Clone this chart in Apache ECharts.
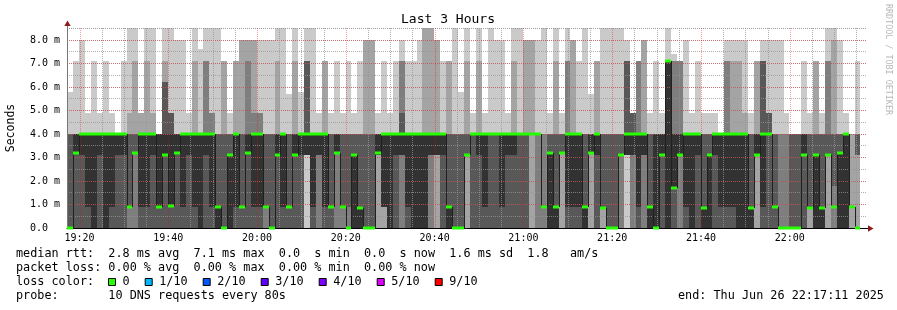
<!DOCTYPE html>
<html>
<head>
<meta charset="utf-8">
<title>Last 3 Hours</title>
<script src="https://cdn.jsdelivr.net/npm/echarts@6/dist/echarts.min.js"></script>
<style>
  html, body { margin: 0; padding: 0; background: #fff; }
  #chart { width: 897px; height: 310px; }
</style>
</head>
<body>
<div id="chart"></div>
<script>
// smokeping style graph, DNS probe, 10 requests every 80s
const windowStart = new Date(2025, 5, 26, 19, 17, 11).getTime()
const windowEnd = new Date(2025, 5, 26, 22, 17, 11).getTime()
const firstStep = new Date(2025, 5, 26, 19, 17, 16).getTime()
const stepMs = 80 * 1000

const timeLabels = ['19:20', '19:40', '20:00', '20:20', '20:40', '21:00', '21:20', '21:40', '22:00']

// median rtt for each step (ms)
const median = [
  0, 3.2, 4, 4, 4, 4, 4, 4, 4, 4,
  0.9, 3.2, 4, 4, 4, 0.9, 3.1, 0.95, 3.2, 4,
  4, 4, 4, 4, 4, 0.9, 0, 3.1, 4, 0.9,
  3.2, 4, 4, 0.9, 0, 3.1, 4, 0.9, 3.1, 4,
  4, 4, 4, 4, 0.9, 3.2, 0.9, 0, 3.1, 0.85,
  0, 0, 3.2, 4, 4, 4, 4, 4, 4, 4,
  4, 4, 4, 4, 0.9, 0, 0, 3.1, 4, 4,
  4, 4, 4, 4, 4, 4, 4, 4, 4, 4,
  0.9, 3.2, 0.9, 3.2, 4, 4, 4, 0.9, 3.2, 4,
  0.85, 0, 0, 3.1, 4, 4, 4, 4, 0.9, 0,
  3.1, 7.1, 1.7, 3.1, 4, 4, 4, 0.85, 3.1, 4,
  4, 4, 4, 4, 4, 0.85, 3.1, 4, 4, 0.9,
  0, 0, 0, 0, 3.1, 0.85, 3.1, 0.85, 3.1, 0.9,
  3.2, 4, 0.9, 0
]

// the 10 sorted response times of each step (ms)
const pings = [
  [0, 0, 0, 0, 4, 4, 4, 4, 4, 5.8],
  [0, 0, 0, 0, 3.2, 4, 4, 4, 4, 7.1],
  [0, 0, 0, 0, 3.1, 4, 4, 4, 4, 8],
  [0, 0, 0, 0, 0.9, 4, 4, 4, 4, 4.9],
  [0, 0, 0, 0, 0, 4, 4, 4, 4, 7.1],
  [0, 0, 0, 0, 3.1, 4, 4, 4, 4, 4.9],
  [0, 0, 0, 0, 0, 4, 4, 4, 4, 7.1],
  [0, 0, 0, 0, 0.9, 4, 4, 4, 4, 4.9],
  [0, 0, 0, 0, 3.1, 4, 4, 4, 4, 4],
  [0, 0, 0, 0, 3.1, 4, 4, 4, 4, 7.1],
  [0, 0, 0, 0.9, 4, 4, 4, 4, 4.9, 8.5],
  [0, 0, 0, 3.2, 4, 4, 4, 4, 7.1, 8.5],
  [0, 0, 0, 0, 0.9, 4, 4, 4, 4.9, 4.9],
  [0, 0, 0, 0, 0.9, 4, 4, 4, 7.1, 8.5],
  [0, 0, 0, 0, 3.1, 4, 4, 4, 4.9, 8.5],
  [0, 0, 0, 0, 0.9, 4, 4, 4, 4, 4],
  [0, 0, 0, 0, 3.1, 4, 6.2, 6.2, 7.1, 8.5],
  [0, 0, 0, 0, 0.9, 4, 4.9, 4.9, 4.9, 8.5],
  [0, 0, 0, 0, 3.2, 4, 4, 4, 4, 8],
  [0, 0, 0, 0, 0.9, 4, 4, 4, 4, 8],
  [0, 0, 0, 0, 3.1, 4, 4, 4, 4, 4.9],
  [0, 0, 0, 0, 0.9, 4, 4, 4, 7.1, 8.5],
  [0, 0, 0, 0, 0, 4, 4, 4, 4, 7.6],
  [0, 0, 0, 0, 3.1, 4, 4, 7.1, 7.1, 8.5],
  [0, 0, 0, 0, 0.9, 4, 4, 4.9, 4.9, 8.5],
  [0, 0, 0, 0, 0, 0.9, 4, 4, 4, 8.5],
  [0, 0, 0, 0, 4, 4, 4, 4, 7.1, 7.1],
  [0, 0, 0, 0, 0, 3.1, 4, 4, 4, 4.9],
  [0, 0, 0, 0, 0.9, 4, 4, 4, 7.1, 7.1],
  [0, 0, 0, 0, 4, 4, 4, 4, 8, 8],
  [0, 0, 0, 0, 3.2, 4, 4, 7.1, 8, 8],
  [0, 0, 0, 0, 0.9, 4, 4, 4.9, 8, 8],
  [0, 0, 0, 0, 0.9, 4, 4, 4.9, 4.9, 8],
  [0, 0, 0, 0.9, 4, 4, 4, 4, 4, 8],
  [0, 0, 0, 0, 4, 4, 4, 4, 4, 8],
  [0, 0, 0, 0, 3.1, 4, 4, 4, 7.1, 8.5],
  [0, 0, 0, 0, 0.9, 4, 4, 4, 4, 8.5],
  [0, 0, 0, 0, 4, 4, 4, 4, 4, 5.7],
  [0, 0, 0, 0, 3.1, 4, 4, 4, 7.1, 8.5],
  [0, 0, 0, 0, 3.1, 4, 4, 4, 4, 5.8],
  [0, 3.1, 3.1, 3.1, 3.1, 4, 7.1, 7.1, 7.1, 8.5],
  [0, 0, 0, 0, 0.9, 4, 4, 4, 4, 8.5],
  [0, 0, 0, 3.1, 3.1, 4, 4, 4, 4, 4.9],
  [0, 0, 0, 0, 0.9, 4, 4, 4, 7.1, 7.1],
  [0, 0, 0, 0, 4, 4, 4, 4, 4, 4.9],
  [0, 0, 0, 3.2, 3.2, 4, 4, 4, 4, 7.1],
  [0, 0, 0, 0.9, 4, 4, 4, 4, 4, 4.9],
  [0, 0, 0, 0.9, 4, 4, 4, 4, 4, 7.1],
  [0, 0, 0, 0, 0, 3.1, 4, 4, 4, 4.9],
  [0, 0, 0, 0, 0, 0.9, 4, 4, 4, 7.1],
  [0, 0, 0, 0, 4, 4, 4, 4, 8, 8],
  [0, 0, 0, 0, 4, 4, 4, 4, 8, 8],
  [0, 0, 3.1, 3.1, 3.1, 4, 4, 4, 4, 4.9],
  [0, 0, 0.9, 0.9, 0.9, 4, 4, 4, 4, 7.1],
  [0, 0, 0, 0, 0, 4, 4, 4, 4, 4.9],
  [0, 0, 0, 0, 3.1, 4, 4, 4, 4, 7.1],
  [0, 0, 0, 3.1, 3.1, 4, 4.9, 7.1, 7.1, 8],
  [0, 0, 0, 0, 0.9, 4, 4, 4, 4, 7.1],
  [0, 0, 0, 0, 0, 4, 4, 4, 4, 7.1],
  [0, 0, 0, 0, 0, 4, 4, 4, 4, 8],
  [0, 0, 0, 0, 0, 4, 4, 4, 8.5, 8.5],
  [0, 0, 0, 3.1, 3.1, 4, 4, 4, 8.5, 8.5],
  [0, 0, 3.1, 3.1, 3.1, 4, 4, 4, 8, 8],
  [0, 0, 0, 0, 3.1, 4, 4, 4, 4, 7.1],
  [0, 0, 0, 0, 0, 0.9, 4, 4, 7.1, 7.1],
  [0, 0, 0, 0, 4, 4, 4, 4, 4, 8.5],
  [0, 0, 0, 0, 4, 4, 4, 4, 4, 5.8],
  [0, 0, 3.1, 3.1, 4, 4, 4, 4, 7.1, 8.5],
  [0, 0, 0, 0, 4, 4, 4, 4, 4, 4.9],
  [0, 0, 0, 0, 3.1, 4, 4, 4, 7.1, 8.5],
  [0, 0, 0, 0, 0.9, 4, 4, 4, 4, 4.9],
  [0, 0, 0, 0, 4, 4, 4, 4, 4, 8.5],
  [0, 0, 0, 0, 4, 4, 4, 4, 4, 8],
  [0, 0, 0, 0, 0.9, 4, 4, 4, 4, 8],
  [0, 0, 0, 0, 3.1, 4, 4, 4, 4, 4.9],
  [0, 0, 0, 0, 3.1, 4, 4, 4, 7.1, 8.5],
  [0, 0, 0, 0, 4, 4, 4, 4, 4, 8.5],
  [0, 0, 0, 0, 4, 4, 4, 4, 8, 8],
  [0, 0, 4, 4, 4, 4, 4, 4, 8, 8],
  [0, 0, 0, 4, 4, 4, 4, 4, 4, 8],
  [0, 0, 0, 4, 4, 4, 4, 4, 4, 8.5],
  [0, 0, 0, 0, 0, 3.2, 4, 4, 4, 4.9],
  [0, 0, 0, 0, 0, 0.9, 4, 4, 7.1, 8.5],
  [0, 0, 3.2, 3.2, 4, 4, 4, 4, 4, 4.9],
  [0, 0, 0, 0, 0.9, 4, 4, 7.1, 7.1, 8.5],
  [0, 0, 0, 0, 0.9, 4, 4, 4, 8, 8],
  [0, 0, 0, 0, 0.9, 4, 4, 4, 4, 7.1],
  [0, 0, 0, 0, 0, 0.9, 4, 4, 4, 8.5],
  [0, 0, 3.2, 3.2, 3.2, 4, 4, 4, 4, 5.7],
  [0, 0, 0, 0, 3.1, 4, 4, 4, 7.1, 7.1],
  [0, 0, 0.9, 0.9, 4, 4, 4, 4, 4, 8.5],
  [0, 0, 0, 0, 4, 4, 4, 4, 4, 8.5],
  [0, 0, 0, 0, 4, 4, 4, 4, 4, 8.5],
  [0, 0, 0, 3.1, 4, 4, 4, 4, 4, 8.5],
  [0, 3.1, 3.1, 3.1, 3.1, 4, 7.1, 7.1, 7.1, 8],
  [0, 0, 0, 3.1, 3.1, 4, 4.9, 4.9, 4.9, 4.9],
  [0, 0, 0, 0, 0.9, 4, 4, 7.1, 7.1, 7.1],
  [0, 0, 0, 3.1, 3.1, 4, 4, 4, 8, 8],
  [0, 0, 0, 0, 0, 0.9, 4, 4, 4, 4.9],
  [0, 0, 0, 0, 0, 4, 4, 4, 4, 7.1],
  [0, 0, 0, 0, 3.1, 4, 4, 4, 4, 4.9],
  [0, 0, 0, 0, 0, 7.1, 7.1, 7.1, 7.1, 8.5],
  [0, 0, 0, 0, 1.7, 4, 4, 7.1, 7.1, 7.4],
  [0, 0, 0, 3.1, 3.1, 4, 4, 7.1, 7.1, 7.1],
  [0, 0, 0, 0, 0.9, 4, 4, 4, 4, 8],
  [0, 0, 0, 0, 0, 4, 4, 4, 4, 4.9],
  [0, 0, 0, 0, 3.1, 4, 4, 4, 4, 7.1],
  [0, 0, 0, 0, 0, 0.9, 4, 4, 4, 4.9],
  [0, 0, 0, 0, 0, 3.1, 4, 4, 4, 4.9],
  [0, 0, 0, 0, 3.1, 4, 4, 4, 4, 4.9],
  [0, 0, 0, 0, 0.9, 4, 4, 4, 4, 4],
  [0, 0, 0, 0, 0.9, 4, 4, 7.1, 7.1, 8],
  [0, 0, 0, 0, 0.9, 4, 4, 4, 7.1, 8],
  [0, 0, 0, 0, 0, 4, 4, 4, 7.1, 8],
  [0, 0, 0, 0, 0, 4, 4, 4, 4.9, 8],
  [0, 0, 0, 0, 0, 0.9, 4, 4, 4, 4.9],
  [0, 0, 3.1, 3.1, 3.1, 4, 4, 4, 7.1, 7.1],
  [0, 0, 0, 0, 0.9, 4, 7.1, 7.1, 7.1, 8],
  [0, 0, 0, 0, 4, 4, 4.9, 4.9, 4.9, 8],
  [0, 0, 0, 0, 4, 4, 4, 4, 4, 8],
  [0, 0, 0, 4, 4, 4, 4, 4, 4, 8],
  [0, 0, 0, 4, 4, 4, 4, 4, 4, 4.9],
  [0, 0, 0, 0, 4, 4, 4, 4, 4, 4],
  [0, 0, 0, 0, 4, 4, 4, 4, 4, 4],
  [0, 0, 0, 0, 3.1, 4, 4, 4, 4, 7.1],
  [0, 0, 0.9, 0.9, 4, 4, 4, 4, 4, 4.9],
  [0, 0, 0, 0, 0, 3.1, 4, 4, 7.1, 7.1],
  [0, 0, 0, 0, 0, 0.9, 4, 4, 4, 4.9],
  [0, 0, 3.1, 3.1, 4, 4, 4, 7.1, 7.1, 8.5],
  [0, 0, 0, 1.8, 4, 4, 4, 4, 8, 8.5],
  [0, 0, 0, 0, 0, 3.2, 4, 4, 4, 8],
  [0, 0, 0, 0, 0, 4, 4, 4, 4, 4.9],
  [0, 0, 4, 4, 4, 4, 4, 4, 4, 4],
  [0, 0, 3.1, 3.1, 4, 4, 4, 4, 4, 7.1]
]

const rttLine = 'median rtt:  2.8 ms avg  7.1 ms max  0.0  s min  0.0  s now  1.6 ms sd  1.8   am/s'
const lossLine = 'packet loss: 0.00 % avg  0.00 % max  0.00 % min  0.00 % now'
const lossLabels = ['0', '1/10', '2/10', '3/10', '4/10', '5/10', '9/10']
const lossColors = ['#26ff00', '#00b8ff', '#0059ff', '#5e00ff', '#7e00ff', '#dd00ff', '#ff0000']

const mono = 'DejaVu Sans Mono'
const yMax = 8.51
const majorGrid = 'rgba(255,0,0,0.38)'
const minorGrid = 'rgba(150,150,150,0.75)'
// gray shades, outer pair of pings lightest, middle pair darkest
const smokeColors = ['#cacaca', '#a4a4a4', '#7e7e7e', '#585858', '#323232']

function atTime (hhmm) {
  const [h, m] = hhmm.split(':').map(Number)
  return new Date(2025, 5, 26, h, m, 0).getTime()
}
function pad (n) { return (n < 10 ? '0' : '') + n }

const labelTimes = timeLabels.map(atTime)
// vertical grid every 5 minutes, red every 20
const gridLines = []
for (let t = atTime('19:20'); t < windowEnd; t += 5 * 60000) {
  gridLines.push([t, labelTimes.indexOf(t) >= 0 ? 1 : 0])
}

const smokeData = []
for (let layer = 0; layer < 5; layer++) {
  pings.forEach((p, k) => {
    const t0 = firstStep + k * stepMs
    smokeData.push([t0, t0 + stepMs, p[layer], p[9 - layer], layer])
  })
}
const medianData = median.map((m, k) => {
  const t0 = firstStep + k * stepMs
  return [t0, t0 + stepMs, m, k > 0 ? median[k - 1] : m]
})

const graphics = [
  { type: 'text', x: 448, y: 20, style: { text: 'Last 3 Hours', font: '13px ' + mono, fill: '#000', align: 'center', verticalAlign: 'middle' } },
  { type: 'text', x: 11, y: 128, rotation: Math.PI / 2, style: { text: 'Seconds', font: '11.5px ' + mono, fill: '#000', align: 'center', verticalAlign: 'middle' } },
  { type: 'text', x: 888.5, y: 59.5, rotation: -Math.PI / 2, style: { text: 'RRDTOOL / TOBI OETIKER', font: '8.4px ' + mono, fill: '#b8b8b8', align: 'center', verticalAlign: 'middle' } },
  { type: 'line', z: 30, shape: { x1: 67.5, y1: 28, x2: 67.5, y2: 24 }, style: { stroke: '#777', lineWidth: 1 } },
  { type: 'polygon', z: 30, shape: { points: [[64.3, 26], [70.7, 26], [67.5, 20.5]] }, style: { fill: '#8a1c1c' } },
  { type: 'line', z: 30, shape: { x1: 866, y1: 228.5, x2: 869, y2: 228.5 }, style: { stroke: '#000', lineWidth: 1 } },
  { type: 'polygon', z: 30, shape: { points: [[868, 225.3], [868, 231.7], [873.5, 228.5]] }, style: { fill: '#8a1c1c' } },
  { type: 'text', x: 16, y: 254, style: { text: rttLine, font: '11.8px ' + mono, fill: '#000', verticalAlign: 'middle' } },
  { type: 'text', x: 16, y: 268, style: { text: lossLine, font: '11.8px ' + mono, fill: '#000', verticalAlign: 'middle' } },
  { type: 'text', x: 16, y: 282, style: { text: 'loss color:', font: '11.8px ' + mono, fill: '#000', verticalAlign: 'middle' } },
  { type: 'text', x: 16, y: 296, style: { text: 'probe:       10 DNS requests every 80s', font: '11.8px ' + mono, fill: '#000', verticalAlign: 'middle' } },
  { type: 'text', x: 678, y: 296, style: { text: 'end: Thu Jun 26 22:17:11 2025', font: '11.8px ' + mono, fill: '#000', verticalAlign: 'middle' } }
]
let boxX = 108.5
lossLabels.forEach((label, i) => {
  graphics.push({ type: 'rect', shape: { x: boxX, y: 278.5, width: 7, height: 7 }, style: { fill: lossColors[i], stroke: '#000', lineWidth: 1 } })
  graphics.push({ type: 'text', x: boxX + 14, y: 282, style: { text: label, font: '11.8px ' + mono, fill: '#000', verticalAlign: 'middle' } })
  boxX += 14 + label.length * 7.1 + 15.6
})

const option = {
  animation: false,
  backgroundColor: '#fff',
  grid: { left: 67, top: 28, width: 799, height: 200, outerBoundsMode: 'none' },
  xAxis: {
    type: 'value',
    min: windowStart,
    max: windowEnd,
    z: 11,
    axisLine: { show: true, lineStyle: { color: '#000', width: 1 } },
    axisTick: { show: false },
    splitLine: { show: false },
    axisLabel: {
      show: true,
      customValues: labelTimes,
      margin: 5,
      fontFamily: mono,
      fontSize: 10,
      color: '#000',
      formatter: function (v) {
        const d = new Date(v)
        return pad(d.getHours()) + ':' + pad(d.getMinutes())
      }
    }
  },
  yAxis: [
    {
      type: 'value',
      min: 0,
      max: yMax,
      interval: 1,
      z: 11,
      axisLine: { show: true, lineStyle: { color: '#777', width: 1 } },
      axisTick: { show: false },
      axisLabel: {
        margin: 7,
        fontFamily: mono,
        fontSize: 10,
        color: '#000',
        showMaxLabel: false,
        formatter: function (v) { return v === 0 ? '0.0  ' : v.toFixed(1) + ' m' }
      },
      splitLine: { show: true, showMinLine: false, showMaxLine: false, lineStyle: { color: majorGrid, width: 1, type: [1, 1] } }
    },
    {
      type: 'value',
      position: 'right',
      min: 0,
      max: yMax,
      interval: 0.5,
      z: 10,
      axisLine: { show: false },
      axisTick: { show: false },
      axisLabel: { show: false },
      splitLine: { show: true, showMinLine: false, lineStyle: { color: minorGrid, width: 1, type: [1, 1] } }
    }
  ],
  series: [
    {
      type: 'custom',
      name: 'smoke',
      yAxisIndex: 0,
      z: 2,
      encode: { x: [0, 1], y: [2, 3] },
      data: smokeData,
      renderItem: function (params, api) {
        const a = api.coord([api.value(0), api.value(3)])
        const b = api.coord([api.value(1), api.value(2)])
        const x0 = Math.round(a[0])
        const x1 = Math.round(b[0])
        const y0 = Math.round(a[1])
        const y1 = Math.round(b[1])
        if (y1 - y0 <= 0) return null
        const layer = api.value(4)
        return {
          type: 'rect',
          z2: layer,
          shape: { x: x0, y: y0, width: x1 - x0, height: y1 - y0 },
          style: { fill: smokeColors[layer] }
        }
      }
    },
    {
      type: 'custom',
      name: 'time grid',
      yAxisIndex: 0,
      z: 12,
      encode: { x: 0, y: -1 },
      data: gridLines,
      renderItem: function (params, api) {
        const p = api.coord([api.value(0), 0])
        const x = Math.round(p[0]) + 0.5
        const cs = params.coordSys
        const major = api.value(1) === 1
        return {
          type: 'line',
          z2: major ? 2 : 1,
          shape: { x1: x, y1: cs.y, x2: x, y2: cs.y + cs.height },
          style: { stroke: major ? majorGrid : minorGrid, lineWidth: 1, lineDash: [1, 1] }
        }
      }
    },
    {
      type: 'custom',
      name: 'median rtt',
      yAxisIndex: 0,
      z: 20,
      encode: { x: [0, 1], y: 2 },
      data: medianData,
      renderItem: function (params, api) {
        const a = api.coord([api.value(0), api.value(2)])
        const b = api.coord([api.value(1), api.value(2)])
        const prev = api.coord([api.value(0), api.value(3)])
        const x0 = Math.round(a[0])
        const x1 = Math.round(b[0])
        const y = Math.round(a[1])
        return {
          type: 'group',
          children: [
            { type: 'line', shape: { x1: x0 + 0.5, y1: Math.round(prev[1]), x2: x0 + 0.5, y2: y }, style: { stroke: '#202020', lineWidth: 1 } },
            { type: 'rect', shape: { x: x0, y: y - 1.5, width: x1 - x0, height: 3 }, style: { fill: '#26ff00' } }
          ]
        }
      }
    }
  ],
  graphic: graphics
}

const chart = echarts.init(document.getElementById('chart'), null, { renderer: 'canvas' })
chart.setOption(option)
</script>
</body>
</html>
